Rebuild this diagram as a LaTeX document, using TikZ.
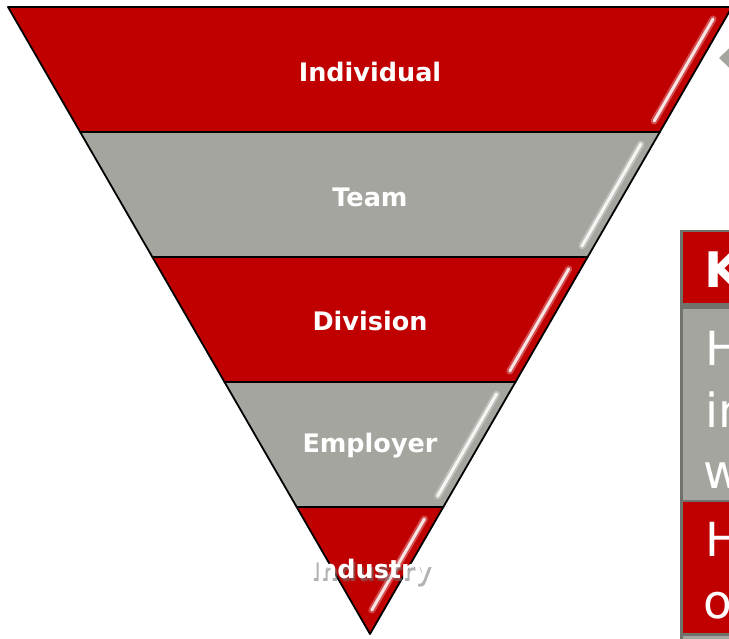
\documentclass[tikz,border=0pt]{standalone}
\usepackage{fontspec}
\setmainfont{DejaVu Sans}
\usetikzlibrary{arrows.meta}
\definecolor{pyred}{RGB}{192,0,0}
\definecolor{pygray}{RGB}{165,165,159}
\definecolor{tabline}{RGB}{112,114,108}

\begin{document}
\begin{tikzpicture}[x=1pt,y=-1pt]
\tikzstyle{band}=[draw=black, line width=1.8pt, line join=round]
\tikzstyle{gloss}=[white, line width=3pt, line cap=round, opacity=0.85]
\tikzstyle{glow}=[white, line width=7pt, line cap=round, opacity=0.3]
\tikzstyle{bandlabel}=[text=white, inner sep=0pt, font=\bfseries\fontsize{25.5}{30}\selectfont]
\tikzstyle{cell}=[draw=tabline, line width=2.5pt]
\tikzstyle{celltext}=[text=white, inner sep=0pt, anchor=base west, font=\fontsize{47}{56}\selectfont]
\tikzstyle{connect}=[-{Triangle[length=13pt,width=24pt]}, draw=pygray, line width=8pt]
  \useasboundingbox (0,0) rectangle (729,639);
  \clip (0,0) rectangle (729,639);
  % pyramid bands
  \foreach \yt/\yb/\col in {7/132/pyred, 132/257/pygray, 257/382/pyred, 382/507/pygray, 507/634/pyred}
  {
    \pgfmathsetmacro\wt{(634-\yt)*0.57735}
    \pgfmathsetmacro\wb{(634-\yb)*0.57735}
    \filldraw[band, fill=\col] (370-\wt,\yt) -- (370+\wt,\yt) -- (370+\wb,\yb) -- (370-\wb,\yb) -- cycle;
    \pgfmathsetmacro\ga{\yt+12}
    \pgfmathsetmacro\gb{min(\yb-11,610)}
    \draw[glow] ({370+(634-\ga)*0.57735-12},\ga) -- ({370+(634-\gb)*0.57735-12},\gb);
    \draw[gloss] ({370+(634-\ga)*0.57735-12},\ga) -- ({370+(634-\gb)*0.57735-12},\gb);
  }
  % soft shadow behind the last label
  \node[bandlabel, text=black!55, opacity=0.55] (industryshadow) at (372,575) {Industry};
  \foreach \ym/\txt/\nm in {72/Individual/individual, 197/Team/team, 321/Division/division, 446/Employer/employer, 572/Industry/industry}
    \node[bandlabel] (\nm) at (370,\ym) {\txt};
  % key table
  \filldraw[cell, fill=pyred] (681.5,231) rectangle (760,306);
  \fill[tabline] (680,303) rectangle (760,309);
  \filldraw[cell, fill=pygray] (681.5,308) rectangle (760,501);
  \filldraw[cell, fill=pyred] (681.5,501) rectangle (760,634.5);
  \filldraw[cell, fill=pygray] (681.5,634.5) rectangle (760,680);
  \node[celltext, font=\bfseries\fontsize{49}{56}\selectfont] (keyhead) at (704,288) {K};
  \node[celltext] (rowa1) at (705,366) {H};
  \node[celltext] (rowa2) at (705,427) {in};
  \node[celltext] (rowa3) at (703,488) {w};
  \node[celltext] (rowb1) at (705,556) {H};
  \node[celltext] (rowb2) at (703,618) {o};
  % arrow from the key
  \coordinate (arrowfrom) at (790,58);
  \coordinate (arrowto) at (719,58);
  \draw[connect] (arrowfrom) -- (arrowto);
\end{tikzpicture}
\end{document}
